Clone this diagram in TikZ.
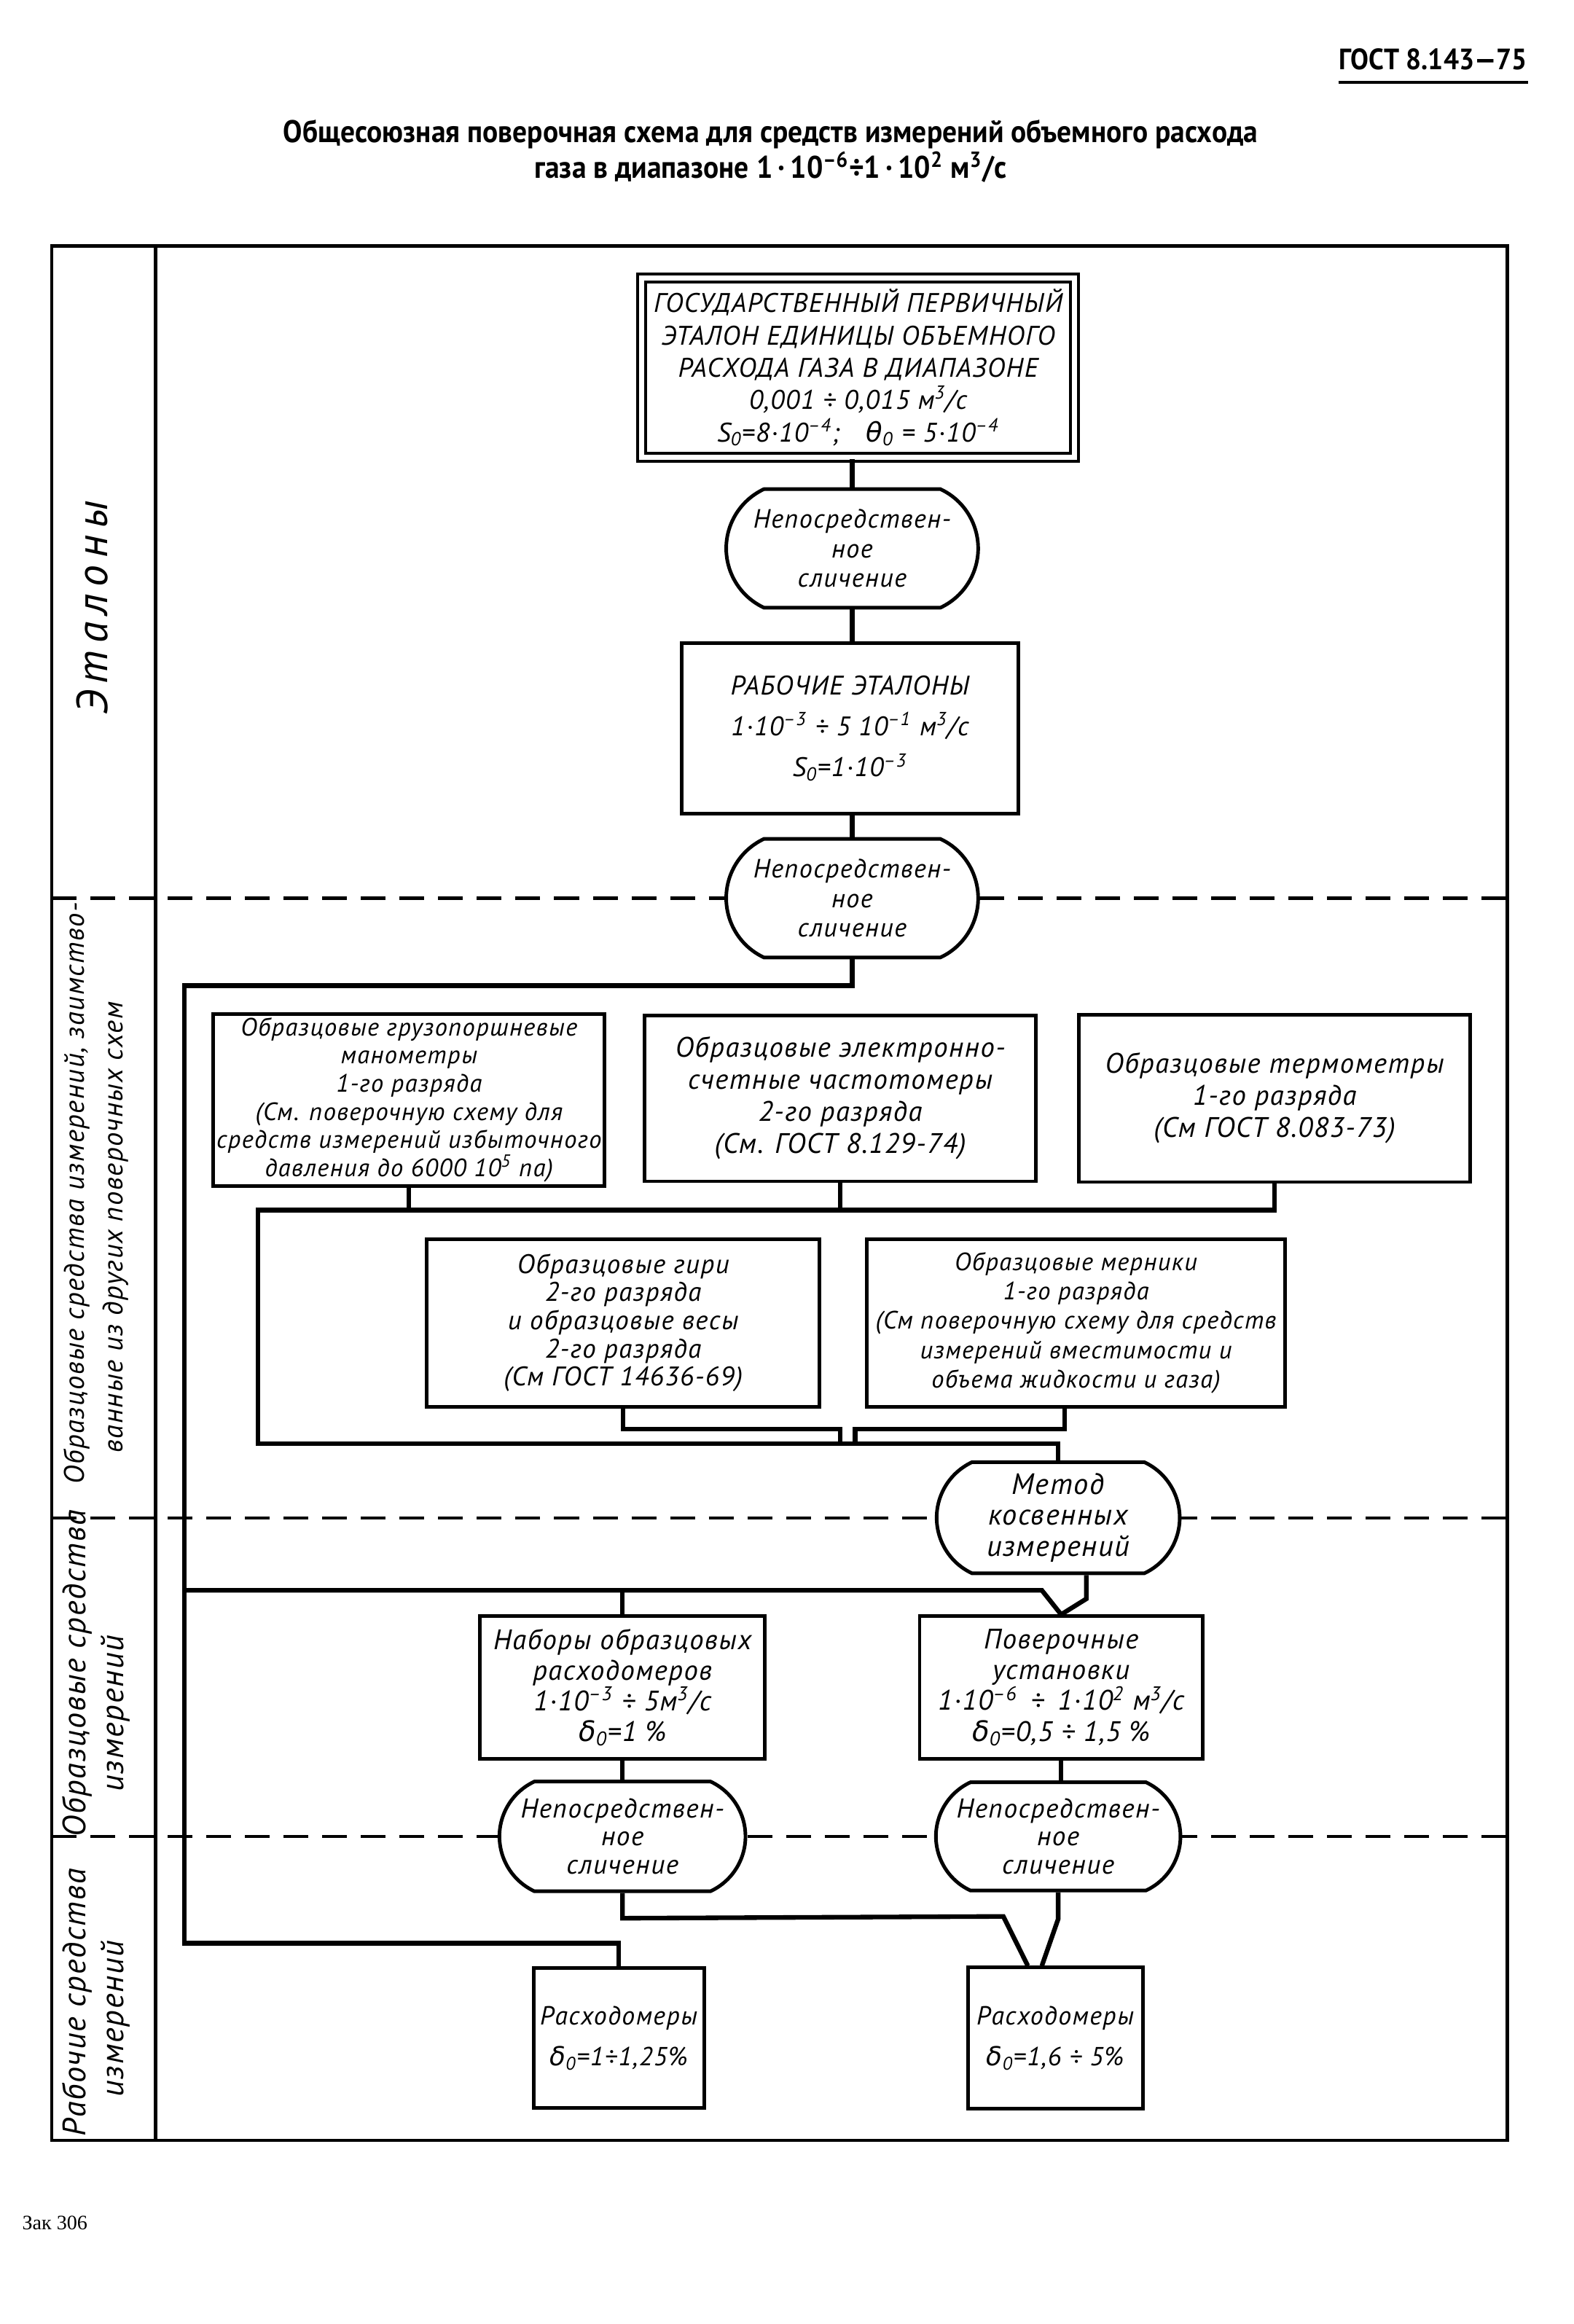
\documentclass[tikz,border=0pt]{standalone}
\usepackage{fontspec}
\setmainfont{PT Sans}
\newfontfamily\gost{PT Sans}[LetterSpace=4]
\newfontfamily\grk{DejaVu Sans}
\newfontfamily\zag{PT Sans}[FakeStretch=0.92]
\newfontfamily\zak{Liberation Serif}
\usetikzlibrary{shapes.misc}
\newcommand\spx{0.2033mm}
\newcommand\delnul{{\grk δ}\textsubscript{0}}
\newcommand\mkub{м\textsuperscript{3}/с}
\tikzset{
  sz/.style 2 args={minimum width=#1*\spx, minimum height=#2*\spx},
  fs/.style 2 args={font=\fontsize{#1}{#2}\gost\itshape},
  box/.style={draw, line width=1.4pt, align=center, inner sep=0pt, fill=white},
  dbox/.style={box, double, double distance=1.8pt, line width=1.2pt},
  slich/.style={box, rounded rectangle, rounded rectangle arc length=130},
  link/.style={line width=1.8pt},
  ramka/.style={line width=1.3pt},
  razdel/.style={line width=1.2pt, dash pattern=on 3.4mm off 1.9mm},
  lbl/.style={rotate=90, inner sep=0pt}
}

\begin{document}
\begin{tikzpicture}[x=\spx,y=-\spx]
        \useasboundingbox (0,0) rectangle (1062,1568);
        %Шапка
        \node[inner sep=0pt, font=\fontsize{11.5}{12}\zag\bfseries] (hdr) at (967,40) {ГОСТ 8.143—75};
        \draw[line width=1.1pt] ([yshift=-1.6mm]hdr.south west) -- ([yshift=-1.6mm]hdr.south east);
        \node[align=center, font=\fontsize{12.2}{12.3}\zag\bfseries] (ttl) at (520,102) {Общесоюзная поверочная схема для средств измерений объемного расхода\\газа в диапазоне 1\,·\,10\textsuperscript{–6}÷1\,·\,10\textsuperscript{2} м\textsuperscript{3}/с};
        %Рамка
        \draw[ramka] (35,166) rectangle (1017,1444);
        \draw[ramka] (105,166) -- (105,1444);
        %Границы
        \draw[razdel] (35,606) -- (1017,606);
        \draw[razdel] (35,1024) -- (1017,1024);
        \draw[razdel] (35,1239) -- (1017,1239);
        %Подписи
        \node[lbl, font=\fontsize{17}{20}\gost\itshape\addfontfeature{LetterSpace=16}] (lab1) at (62,410) {Эталоны};
        \node[lbl, fs={11}{15}] (lab2a) at (52,805) {Образцовые средства измерений, заимство-};
        \node[lbl, fs={11}{15}] (lab2b) at (78,828) {ванные из других поверочных схем};
        \node[lbl, fs={12.6}{15}] (lab3a) at (52,1129) {Образцовые средства};
        \node[lbl, fs={12.6}{15}] (lab3b) at (78,1156) {измерений};
        \node[lbl, fs={12.6}{15}] (lab4a) at (52,1351) {Рабочие средства};
        \node[lbl, fs={12.6}{15}] (lab4b) at (78,1362) {измерений};
        %Эталоны
        \node[dbox, sz={292}{121}, fs={10.5}{12.6}] (prim) at (579,248) {ГОСУДАРСТВЕННЫЙ ПЕРВИЧНЫЙ\\ЭТАЛОН ЕДИНИЦЫ ОБЪЕМНОГО\\РАСХОДА ГАЗА В ДИАПАЗОНЕ\\0,001 ÷ 0,015 \mkub\\S\textsubscript{0}=8·10\textsuperscript{–4};\quad {\grk θ}\textsubscript{0} = 5·10\textsuperscript{–4}};
        \node[slich, sz={170}{80}, fs={10.3}{11.5}] (sl1) at (575,370) {Непосредствен-\\ное\\сличение};
        \node[box, sz={227}{115}, fs={10.5}{16}] (rab) at (573.5,491.5) {РАБОЧИЕ ЭТАЛОНЫ\\1·10\textsuperscript{–3} ÷ 5 10\textsuperscript{–1} \mkub\\S\textsubscript{0}=1·10\textsuperscript{–3}};
        \node[slich, sz={170}{80}, fs={10.3}{11.5}] (sl2) at (575,606) {Непосредствен-\\ное\\сличение};
        %Заимствованные
        \node[box, sz={264}{116}, fs={9.8}{11}] (grz) at (276,742) {Образцовые грузопоршневые\\манометры\\1-го разряда\\(См. поверочную схему для\\средств измерений избыточного\\давления до 6000 10\textsuperscript{5} па)};
        \node[box, sz={264}{112}, fs={11}{12.5}] (chs) at (567,741) {Образцовые электронно-\\счетные частотомеры\\2-го разряда\\(См. ГОСТ 8.129-74)};
        \node[box, sz={264}{113}, fs={11}{12.5}] (trm) at (860,741) {Образцовые термометры\\1-го разряда\\(См ГОСТ 8.083-73)};
        \node[box, sz={265}{113}, fs={10.5}{11}] (gir) at (420.5,892.5) {Образцовые гири\\2-го разряда\\и образцовые весы\\2-го разряда\\(См ГОСТ 14636-69)};
        \node[box, sz={282}{113}, fs={9.8}{11.5}] (mer) at (726,892.5) {Образцовые мерники\\1-го разряда\\(См поверочную схему для средств\\измерений вместимости и\\объема жидкости и газа)};
        \node[slich, sz={164}{75}, fs={11.5}{12}] (met) at (714,1024) {Метод\\косвенных\\измерений};
        %Образцовые
        \node[box, sz={192}{96}, fs={11}{12}] (nab) at (420,1138.5) {Наборы образцовых\\расходомеров\\1·10\textsuperscript{–3} ÷ 5\mkub\\\delnul=1 \%};
        \node[box, sz={191}{96}, fs={11}{12}] (pov) at (716,1138.5) {Поверочные\\установки\\1·10\textsuperscript{–6} \,÷\, 1·10\textsuperscript{2} \mkub\\\delnul=0,5 ÷ 1,5 \%};
        \node[slich, sz={166}{74}, fs={10.6}{11}] (slL) at (420,1239) {Непосредствен-\\ное\\сличение};
        \node[slich, sz={165}{73}, fs={10.6}{11}] (slR) at (714,1239) {Непосредствен-\\ное\\сличение};
        %Рабочие
        \node[box, sz={115}{94}, fs={10.2}{16}] (ras1) at (417.5,1375) {Расходомеры\\\delnul=1÷1,25\%};
        \node[box, sz={118}{95}, fs={10.2}{16}] (ras2) at (712,1375) {Расходомеры\\\delnul=1,6 ÷ 5\%};
        %Связи
        \draw[link] (prim.south -| sl1) -- (sl1.north);
        \draw[link] (sl1.south) -- (sl1.south |- rab.north);
        \draw[link] (rab.south -| sl2) -- (sl2.north);
        \coordinate (lb1) at (124.5,665);
        \coordinate (lb2) at (124.5,1311);
        \coordinate (lb3) at (124.5,1073);
        \draw[link] (sl2.south) |- (lb1) -- (lb2) -| (ras1.north);
        \draw[link] (lb3) -- (703,1073) -- (pov.north);
        \draw[link] (nab.north) -- (nab.north |- lb3);
        \draw[link] ([xshift=19*\spx]met.south) -- ++(0,16) -- (pov.north);
        \coordinate (b2l) at (174,816.5);
        \coordinate (b2n) at (174,974);
        \draw[link] (grz.south) -- (grz.south |- b2l);
        \draw[link] (chs.south) -- (chs.south |- b2l);
        \draw[link] (trm.south) -- (trm.south |- b2l) -- (b2l) -- (b2n) -| (met.north);
        \draw[link] (gir.south) -- ++(0,14) -| (567,974);
        \draw[link] ([xshift=-7.5*\spx]mer.south) -- ++(0,14) -| (577,974);
        \draw[link] (nab.south) -- (slL.north);
        \draw[link] (pov.south) -- (pov.south |- slR.north);
        \draw[link] (slL.south) -- ++(0,17) -- (677,1293) -- ([xshift=-18.5*\spx]ras2.north);
        \draw[link] (slR.south) -- ++(0,18) -- ([xshift=-9*\spx]ras2.north);
        %Подпись
        \node[font=\fontsize{8}{10}\zak] (zak) at (37,1500) {Зак 306};
    \end{tikzpicture}
\end{document}
